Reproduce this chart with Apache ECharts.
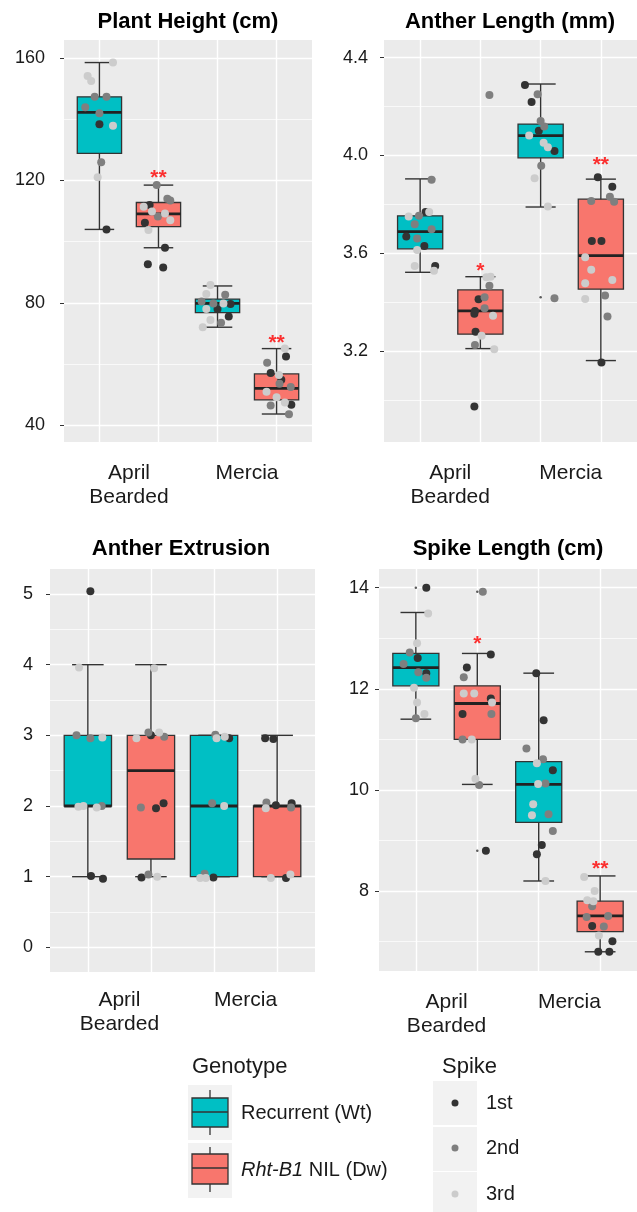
<!DOCTYPE html>
<html><head><meta charset="utf-8">
<script src="https://cdn.jsdelivr.net/npm/echarts@6/dist/echarts.min.js"></script>
<style>html,body{margin:0;padding:0;background:#fff}#c{width:637px;height:1212px}</style>
</head><body><div id="c"></div>
<script>
// ---------------- DATA ----------------
const categories = ['April\nBearded', 'Mercia'];
const genotypes = ['Recurrent (Wt)', 'Rht-B1 NIL (Dw)'];
const spikes = ['1st', '2nd', '3rd'];
const panelTitles = ['Plant Height (cm)', 'Anther Length (mm)', 'Anther Extrusion', 'Spike Length (cm)'];
// groups: 0 April Wt, 1 April Dw, 2 Mercia Wt, 3 Mercia Dw
const groupGenotype = [0, 1, 0, 1];
const groupPos = [1, 2, 3, 4];

// box stats: [lower whisker, Q1, median, Q3, upper whisker]
const plantHeightBox = [[104.0,128.9,142.3,147.4,158.6],[98.0,104.9,109.1,112.8,118.5],[72.0,76.8,79.8,81.2,85.5],[43.6,48.2,52.0,56.7,65.0]];
const antherLengthBox = [[3.522,3.618,3.688,3.753,3.904],[3.210,3.269,3.364,3.450,3.504],[3.789,3.990,4.081,4.128,4.292],[3.161,3.453,3.590,3.821,3.903]];
const antherExtrusionBox = [[1,2,2,3,4],[1,1.25,2.5,3,4],[1,1,2,3,3],[1,1,2,2,3]];
const spikeLengthBox = [[11.40,12.06,12.42,12.70,13.51],[10.11,11.00,11.71,12.06,12.70],[8.20,9.36,10.11,10.56,12.31],[6.80,7.20,7.51,7.80,8.30]];

// points: [group, jitter, value, spike(0=1st,1=2nd,2=3rd)]
const plantHeightPts = [
 [0,0.23,158.6,2],[0,-0.20,154.2,2],[0,-0.14,152.6,2],[0,-0.08,147.4,1],[0,0.12,147.4,1],[0,-0.24,144.0,1],[0,0.0,142.0,1],[0,0.0,138.4,0],[0,0.23,137.9,2],[0,0.03,126.0,1],[0,-0.03,121.1,2],[0,0.12,104.0,0],
 [1,-0.03,118.5,1],[1,0.15,114.0,1],[1,0.20,113.5,1],[1,-0.25,111.4,2],[1,-0.15,112.0,0],[1,-0.11,109.9,2],[1,0.11,109.2,2],[1,-0.01,108.2,1],[1,0.20,107.0,2],[1,-0.23,106.2,0],[1,-0.17,103.8,2],[1,0.11,98.0,0],[1,-0.18,92.6,0],[1,0.08,91.5,0],
 [2,-0.12,85.8,2],[2,-0.19,82.9,2],[2,0.13,82.6,1],[2,-0.27,80.4,1],[2,-0.07,79.8,1],[2,0.10,79.8,2],[2,0.22,79.6,0],[2,-0.19,78.0,2],[2,0.0,78.0,0],[2,0.19,75.5,0],[2,-0.12,74.4,2],[2,0.06,73.5,1],[2,-0.25,72.0,2],
 [3,0.14,65.0,2],[3,0.16,62.4,0],[3,-0.16,60.4,1],[3,-0.10,57.0,0],[3,0.04,56.4,2],[3,0.08,54.8,0],[3,0.05,53.5,1],[3,0.24,52.4,1],[3,-0.17,50.9,2],[3,0.0,49.1,2],[3,0.14,47.4,2],[3,-0.10,46.4,1],[3,0.25,46.6,0],[3,0.21,43.5,1]
];
const antherLengthPts = [
 [0,0.19,3.90,1],[0,-0.19,3.750,2],[0,-0.02,3.753,1],[0,0.09,3.769,0],[0,0.15,3.769,2],[0,-0.09,3.719,1],[0,0.19,3.698,1],[0,-0.23,3.668,0],[0,-0.05,3.660,1],[0,0.07,3.630,0],[0,-0.05,3.613,2],[0,-0.09,3.548,2],[0,0.25,3.548,0],[0,0.23,3.528,2],
 [1,0.10,3.502,2],[1,0.17,3.504,2],[1,0.15,3.467,1],[1,0.07,3.420,1],[1,-0.03,3.412,0],[1,0.07,3.375,1],[1,-0.09,3.364,0],[1,-0.10,3.352,0],[1,0.21,3.344,2],[1,-0.08,3.279,0],[1,0.02,3.263,2],[1,-0.09,3.225,1],[1,0.23,3.207,2],[1,-0.10,2.973,0],[1,0.15,4.247,1],
 [2,-0.26,4.288,0],[2,-0.05,4.250,1],[2,-0.15,4.218,0],[2,0.0,4.141,1],[2,0.06,4.118,1],[2,-0.03,4.101,0],[2,-0.19,4.081,2],[2,0.05,4.052,2],[2,0.12,4.033,2],[2,0.23,4.018,0],[2,0.01,3.958,1],[2,-0.10,3.907,2],[2,0.12,3.791,2],[2,0.23,3.416,1],
 [3,-0.05,3.911,0],[3,0.19,3.872,0],[3,-0.16,3.814,1],[3,0.15,3.831,1],[3,0.22,3.811,1],[3,-0.15,3.650,0],[3,0.01,3.650,0],[3,-0.26,3.584,2],[3,-0.16,3.532,2],[3,0.19,3.491,2],[3,-0.26,3.477,2],[3,-0.26,3.413,2],[3,0.07,3.427,1],[3,0.11,3.341,1],[3,0.01,3.153,0]
];
const antherExtrusionPts = [
 [0,0.04,5.04,0],[0,-0.14,3.96,2],[0,-0.18,3.00,1],[0,0.04,2.96,1],[0,0.23,2.97,2],[0,-0.15,1.99,2],[0,-0.07,2.00,2],[0,0.14,1.98,2],[0,0.22,2.00,1],[0,0.05,1.01,0],[0,0.24,0.97,0],
 [1,0.05,3.95,2],[1,-0.23,2.96,2],[1,-0.04,3.04,1],[1,0.0,3.00,0],[1,0.13,3.04,2],[1,0.21,2.98,1],[1,-0.16,1.98,1],[1,0.08,1.97,0],[1,0.20,2.04,0],[1,-0.15,0.99,0],[1,-0.04,1.03,1],[1,0.10,1.00,2],
 [2,0.02,3.01,1],[2,0.04,2.96,2],[2,0.17,2.98,2],[2,0.24,2.96,0],[2,-0.03,2.04,1],[2,0.16,2.00,2],[2,-0.22,0.98,2],[2,-0.15,1.04,1],[2,-0.01,0.99,0],[2,-0.13,0.98,2],
 [3,-0.19,2.96,0],[3,-0.06,2.95,0],[3,-0.17,2.05,1],[3,-0.18,1.97,2],[3,-0.02,2.01,0],[3,0.23,2.04,0],[3,0.22,1.98,1],[3,-0.10,0.98,2],[3,0.14,0.98,0],[3,0.21,1.03,2]
];
const spikeLengthPts = [
 [0,0.17,14.00,0],[0,0.20,13.49,2],[0,0.02,12.90,2],[0,-0.10,12.72,1],[0,0.03,12.61,0],[0,-0.20,12.49,1],[0,0.04,12.33,1],[0,0.17,12.31,0],[0,0.17,12.22,1],[0,-0.03,12.02,2],[0,0.02,11.73,2],[0,0.14,11.50,2],[0,0.0,11.42,1],
 [1,0.09,13.92,1],[1,0.22,12.68,0],[1,-0.17,12.42,0],[1,-0.22,12.23,1],[1,-0.22,11.91,2],[1,-0.05,11.91,2],[1,0.22,11.81,0],[1,0.24,11.73,2],[1,-0.24,11.50,0],[1,0.23,11.50,1],[1,-0.24,11.00,1],[1,-0.09,11.00,2],[1,-0.03,10.22,2],[1,0.03,10.10,1],[1,0.14,8.80,0],
 [2,-0.04,12.31,0],[2,0.08,11.38,0],[2,-0.20,10.82,1],[2,0.07,10.61,1],[2,-0.03,10.53,2],[2,0.23,10.39,0],[2,-0.01,10.12,2],[2,0.11,10.13,1],[2,-0.09,9.72,2],[2,-0.11,9.50,2],[2,0.16,9.52,1],[2,0.23,9.19,1],[2,0.05,8.91,0],[2,-0.03,8.73,0],[2,0.11,8.20,2],
 [3,-0.26,8.28,2],[3,-0.09,8.00,2],[3,-0.21,7.82,2],[3,-0.11,7.80,2],[3,-0.13,7.70,1],[3,-0.22,7.49,1],[3,0.13,7.51,1],[3,-0.13,7.31,0],[3,0.06,7.30,1],[3,-0.02,7.12,2],[3,0.20,7.01,0],[3,-0.03,6.80,0],[3,0.15,6.80,0]
];
// boxplot outliers (tiny dots): [group, value]
const plantHeightOut = [];
const antherLengthOut = [[2,3.42]];
const antherExtrusionOut = [];
const spikeLengthOut = [[0,14.0],[1,13.92],[1,8.80]];
// significance marks: [group, value, text]
const plantHeightSig = [[1,122.5,'**'],[3,68.4,'**']];
const antherLengthSig = [[1,3.548,'*'],[3,3.982,'**']];
const antherExtrusionSig = [];
const spikeLengthSig = [[1,12.98,'*'],[3,8.53,'**']];
// y-axis ticks
const plantHeightTicks = [40,80,120,160];
const antherLengthTicks = [3.2,3.6,4.0,4.4];
const antherExtrusionTicks = [0,1,2,3,4,5];
const spikeLengthTicks = [8,10,12,14];
const plantHeightMinor = [60,100,140];
const antherLengthMinor = [3.0,3.4,3.8,4.2];
const antherExtrusionMinor = [0.5,1.5,2.5,3.5,4.5];
const spikeLengthMinor = [7,9,11,13];
// axis ranges
const plantHeightRange = [34.44,165.98];
const antherLengthRange = [2.828,4.472];
const antherExtrusionRange = [-0.349,5.354];
const spikeLengthRange = [6.42,14.37];

// ---------------- LAYOUT / STYLE ----------------
const FONT = "'Liberation Sans', Arial, Helvetica, sans-serif";
const TEAL = '#00BFC4', SALMON = '#F8766D';
const spikeColors = ['#333333', '#7F7F7F', '#CCCCCC'];
const panels = [
 {box:plantHeightBox, pts:plantHeightPts, out:plantHeightOut, sig:plantHeightSig, ticks:plantHeightTicks, minor:plantHeightMinor, range:plantHeightRange, dec:0,
  grid:{left:64, top:40, width:248, height:402}, yMargin:19, xMargin:19, titleX:188, titleY:22},
 {box:antherLengthBox, pts:antherLengthPts, out:antherLengthOut, sig:antherLengthSig, ticks:antherLengthTicks, minor:antherLengthMinor, range:antherLengthRange, dec:1,
  grid:{left:384, top:40, width:253, height:402}, yMargin:16, xMargin:19, titleX:510, titleY:22},
 {box:antherExtrusionBox, pts:antherExtrusionPts, out:antherExtrusionOut, sig:antherExtrusionSig, ticks:antherExtrusionTicks, minor:antherExtrusionMinor, range:antherExtrusionRange, dec:0,
  grid:{left:50, top:569, width:265, height:403}, yMargin:17, xMargin:16, titleX:181, titleY:549},
 {box:spikeLengthBox, pts:spikeLengthPts, out:spikeLengthOut, sig:spikeLengthSig, ticks:spikeLengthTicks, minor:spikeLengthMinor, range:spikeLengthRange, dec:0,
  grid:{left:379, top:569, width:258, height:402}, yMargin:10, xMargin:19, titleX:508, titleY:549}
];

function renderBox(params, api) {
  const x = api.value(0);
  const lo = api.coord([x, api.value(1)]);
  const q1 = api.coord([x, api.value(2)]);
  const md = api.coord([x, api.value(3)]);
  const q3 = api.coord([x, api.value(4)]);
  const hi = api.coord([x, api.value(5)]);
  const bw = api.size([0.75, 0])[0];
  const cw = api.size([0.5, 0])[0];
  const cx = md[0];
  const fill = api.value(6) === 0 ? TEAL : SALMON;
  const ln = {stroke:'#333333', lineWidth:1.4};
  return {type:'group', children:[
    {type:'line', shape:{x1:cx, y1:hi[1], x2:cx, y2:lo[1]}, style:ln},
    {type:'line', shape:{x1:cx-cw/2, y1:hi[1], x2:cx+cw/2, y2:hi[1]}, style:ln},
    {type:'line', shape:{x1:cx-cw/2, y1:lo[1], x2:cx+cw/2, y2:lo[1]}, style:ln},
    {type:'rect', shape:{x:cx-bw/2, y:q3[1], width:bw, height:q1[1]-q3[1]}, style:{fill:fill, stroke:'#333333', lineWidth:1.3}},
    {type:'line', shape:{x1:cx-bw/2, y1:md[1], x2:cx+bw/2, y2:md[1]}, style:{stroke:'#222222', lineWidth:2.8}}
  ]};
}

const grid = [], xAxis = [], yAxis = [], series = [], graphic = [];
panels.forEach((p, i) => {
  grid.push(Object.assign({show:true, backgroundColor:'#EBEBEB', borderWidth:0}, p.grid));
  xAxis.push({gridIndex:i, type:'value', min:0.4, max:4.6,
    axisLine:{show:false}, axisTick:{show:false, customValues:groupPos},
    splitLine:{show:true, lineStyle:{color:'#FFFFFF', width:1.4}},
    axisLabel:{customValues:[1.5,3.5], formatter:v => (v < 2.5 ? categories[0] : categories[1]),
      fontSize:21, lineHeight:24, color:'#1a1a1a', margin:p.xMargin, fontFamily:FONT}});
  yAxis.push({gridIndex:i, type:'value', min:p.range[0], max:p.range[1],
    axisLine:{show:false}, axisTick:{show:true, length:4, customValues:p.ticks, lineStyle:{color:'#333333', width:1}},
    axisLabel:{customValues:p.ticks, formatter:v => v.toFixed(p.dec), fontSize:18, color:'#1a1a1a', margin:p.yMargin, fontFamily:FONT},
    splitLine:{show:true, lineStyle:{color:'#FFFFFF', width:1.4}}});
  yAxis.push({gridIndex:i, type:'value', min:p.range[0], max:p.range[1], position:'left',
    axisLine:{show:false}, axisTick:{show:false, customValues:p.minor}, axisLabel:{show:false},
    splitLine:{show:true, lineStyle:{color:'#FFFFFF', width:0.7}}});
  series.push({type:'custom', xAxisIndex:i, yAxisIndex:2*i, renderItem:renderBox, silent:true, z:2,
    data:p.box.map((b, g) => [groupPos[g], b[0], b[1], b[2], b[3], b[4], groupGenotype[g]])});
  series.push({type:'scatter', xAxisIndex:i, yAxisIndex:2*i, symbolSize:2.5, silent:true, z:3,
    itemStyle:{color:'#333333'}, data:p.out.map(o => [groupPos[o[0]], o[1]])});
  spikes.forEach((s, si) => {
    series.push({type:'scatter', name:s, xAxisIndex:i, yAxisIndex:2*i, symbolSize:8, silent:true, z:4,
      itemStyle:{color:spikeColors[si], opacity:1},
      data:p.pts.filter(q => q[3] === si).map(q => [groupPos[q[0]] + q[1], q[2]])});
  });
  series.push({type:'scatter', xAxisIndex:i, yAxisIndex:2*i, symbolSize:2, silent:true, z:6,
    itemStyle:{color:'rgba(0,0,0,0)'},
    label:{show:true, position:'inside', offset:[0,5], formatter:d => d.data[2], color:'#FF0000', fontSize:21, fontWeight:'bold', fontFamily:FONT},
    data:p.sig.map(s => [groupPos[s[0]], s[1], s[2]])});
  graphic.push({type:'text', x:p.titleX, y:p.titleY, style:{text:panelTitles[i], font:'bold 22px ' + FONT, fill:'#000', textAlign:'center', textVerticalAlign:'middle'}});
});

// ---------------- LEGEND (drawn) ----------------
const lineSt = {stroke:'#333333', lineWidth:1.3};
graphic.push({type:'text', x:192, y:1067, style:{text:'Genotype', font:'22px ' + FONT, fill:'#1a1a1a', textVerticalAlign:'middle'}});
[[1085,1098,1127,1112,1090,1135,TEAL],[1143,1154,1184,1168,1147,1192,SALMON]].forEach((k, j) => {
  graphic.push({type:'rect', shape:{x:188, y:k[0], width:44, height:55}, style:{fill:'#F2F2F2'}});
  graphic.push({type:'line', shape:{x1:210, y1:k[4], x2:210, y2:k[5]}, style:lineSt});
  graphic.push({type:'rect', shape:{x:192, y:k[1], width:36, height:k[2]-k[1]}, style:{fill:k[6], stroke:'#333333', lineWidth:1.3}});
  graphic.push({type:'line', shape:{x1:192, y1:k[3], x2:228, y2:k[3]}, style:{stroke:'#333333', lineWidth:1.6}});
});
graphic.push({type:'text', x:241, y:1113, style:{text:genotypes[0], font:'20px ' + FONT, fill:'#1a1a1a', textVerticalAlign:'middle'}});
graphic.push({type:'text', x:241, y:1170, style:{text:'{i|Rht-B1} NIL (Dw)', font:'20px ' + FONT, fill:'#1a1a1a', textVerticalAlign:'middle',
  rich:{i:{fontStyle:'italic', fontSize:20, fontFamily:FONT, fill:'#1a1a1a'}}}});
graphic.push({type:'text', x:442, y:1067, style:{text:'Spike', font:'22px ' + FONT, fill:'#1a1a1a', textVerticalAlign:'middle'}});
[[1081,1103],[1127,1148],[1172,1194]].forEach((k, j) => {
  graphic.push({type:'rect', shape:{x:433, y:k[0], width:44, height:44}, style:{fill:'#F2F2F2'}});
  graphic.push({type:'circle', shape:{cx:455, cy:k[1], r:3.5}, style:{fill:spikeColors[j]}});
  graphic.push({type:'text', x:486, y:k[1], style:{text:spikes[j], font:'20px ' + FONT, fill:'#1a1a1a', textVerticalAlign:'middle'}});
});

const chart = echarts.init(document.getElementById('c'), null, {renderer:'canvas'});
chart.setOption({animation:false, backgroundColor:'#FFFFFF', grid, xAxis, yAxis, series, graphic});
</script></body></html>
